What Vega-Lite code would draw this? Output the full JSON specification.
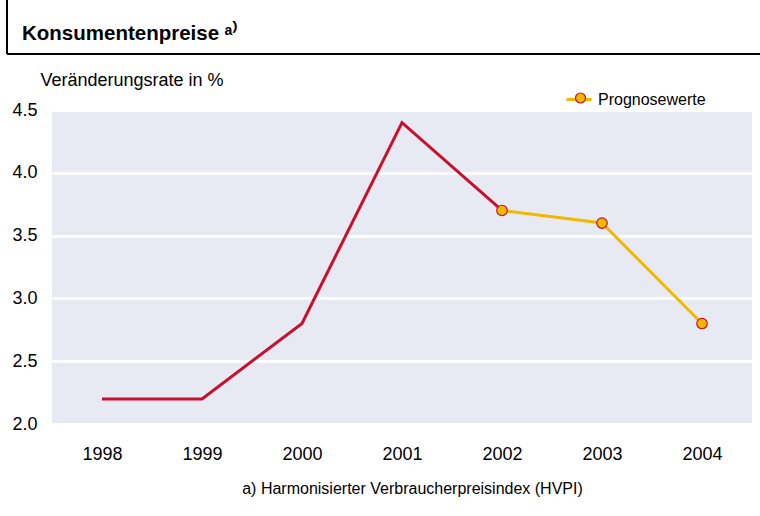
{
  "$schema": "https://vega.github.io/schema/vega-lite/v6.json",
  "autosize": {"type": "none"},
  "width": 700,
  "height": 314,
  "padding": {"left": 52, "top": 110, "right": 8, "bottom": 92},
  "background": "white",
  "config": {
    "font": "Liberation Sans",
    "view": {"fill": "#E8EAF3", "stroke": null}
  },
  "title": {
    "text": "Konsumentenpreise ᵃ⁾",
    "anchor": "start",
    "frame": "group",
    "dx": -30,
    "offset": -45,
    "fontSize": 20.5,
    "fontWeight": "bold",
    "font": "Liberation Sans",
    "color": "#000000"
  },
  "data": {
    "values": [
      {"year": 1998, "value": 2.2, "series": "Ist"},
      {"year": 1999, "value": 2.2, "series": "Ist"},
      {"year": 2000, "value": 2.8, "series": "Ist"},
      {"year": 2001, "value": 4.4, "series": "Ist"},
      {"year": 2002, "value": 3.7, "series": "Ist"},
      {"year": 2002, "value": 3.7, "series": "Prognosewerte"},
      {"year": 2003, "value": 3.6, "series": "Prognosewerte"},
      {"year": 2004, "value": 2.8, "series": "Prognosewerte"}
    ]
  },
  "layer": [
    {
      "mark": {"type": "line", "strokeWidth": 3},
      "encoding": {
        "x": {
          "field": "year", "type": "quantitative",
          "scale": {"domain": [1997.5, 2004.5], "nice": false, "zero": false},
          "axis": {
            "values": [1998, 1999, 2000, 2001, 2002, 2003, 2004],
            "format": "d",
            "grid": false, "domain": false, "ticks": false,
            "labelFontSize": 18, "labelColor": "#000000", "labelPadding": 21,
            "labelFont": "Liberation Sans",
            "title": "a) Harmonisierter Verbraucherpreisindex (HVPI)",
            "titleFontSize": 16, "titleFontWeight": "normal", "titleColor": "#000000",
            "titleFont": "Liberation Sans",
            "titleX": 360, "titleY": 69, "titleBaseline": "alphabetic", "titleAlign": "center"
          }
        },
        "y": {
          "field": "value", "type": "quantitative",
          "scale": {"domain": [2, 4.5], "nice": false, "zero": false},
          "axis": {
            "values": [2, 2.5, 3, 3.5, 4, 4.5],
            "format": ".1f",
            "grid": true, "gridColor": "#FFFFFF", "gridWidth": 3, "gridOpacity": 1,
            "domain": false, "ticks": false,
            "labelFontSize": 18, "labelColor": "#000000", "labelPadding": 15,
            "labelFont": "Liberation Sans",
            "title": "Veränderungsrate in %",
            "titleFontSize": 18, "titleFontWeight": "normal", "titleColor": "#000000",
            "titleFont": "Liberation Sans",
            "titleAngle": 0, "titleAlign": "left", "titleBaseline": "alphabetic",
            "titleX": -12, "titleY": -25
          }
        },
        "stroke": {
          "field": "series", "type": "nominal",
          "scale": {"domain": ["Ist", "Prognosewerte"], "range": ["#C8102E", "#F2B800"]},
          "legend": {
            "values": ["Prognosewerte"],
            "title": null,
            "orient": "none", "legendX": 513, "legendY": -24.5,
            "symbolType": "stroke", "symbolSize": 625, "symbolStrokeWidth": 3,
            "labelFontSize": 16, "labelColor": "#000000", "labelOffset": 5,
            "labelFont": "Liberation Sans", "padding": 0
          }
        }
      }
    },
    {
      "transform": [{"filter": "datum.series == 'Prognosewerte'"}],
      "mark": {"type": "point", "filled": true, "size": 110, "stroke": "#C8102E", "strokeWidth": 1.2, "opacity": 1},
      "encoding": {
        "x": {"field": "year", "type": "quantitative"},
        "y": {"field": "value", "type": "quantitative"},
        "fill": {
          "field": "series", "type": "nominal",
          "scale": {"domain": ["Prognosewerte"], "range": ["#F2B800"]},
          "legend": {
            "title": null,
            "orient": "none", "legendX": 521, "legendY": -19.5,
            "symbolType": "circle", "symbolSize": 100,
            "symbolStrokeColor": "#C8102E", "symbolStrokeWidth": 1.2,
            "labelExpr": "''", "labelFontSize": 15, "labelOffset": 0, "padding": 0
          }
        }
      }
    },
    {
      "mark": {"type": "rule", "color": "#000000", "strokeWidth": 1, "clip": false},
      "encoding": {
        "x": {"datum": 1997.05, "type": "quantitative"},
        "y": {"datum": 5.376, "type": "quantitative"},
        "y2": {"datum": 4.946}
      }
    },
    {
      "mark": {"type": "rule", "color": "#000000", "strokeWidth": 1, "clip": false},
      "encoding": {
        "x": {"datum": 1997.05, "type": "quantitative"},
        "x2": {"datum": 2004.58},
        "y": {"datum": 4.946, "type": "quantitative"}
      }
    }
  ]
}
